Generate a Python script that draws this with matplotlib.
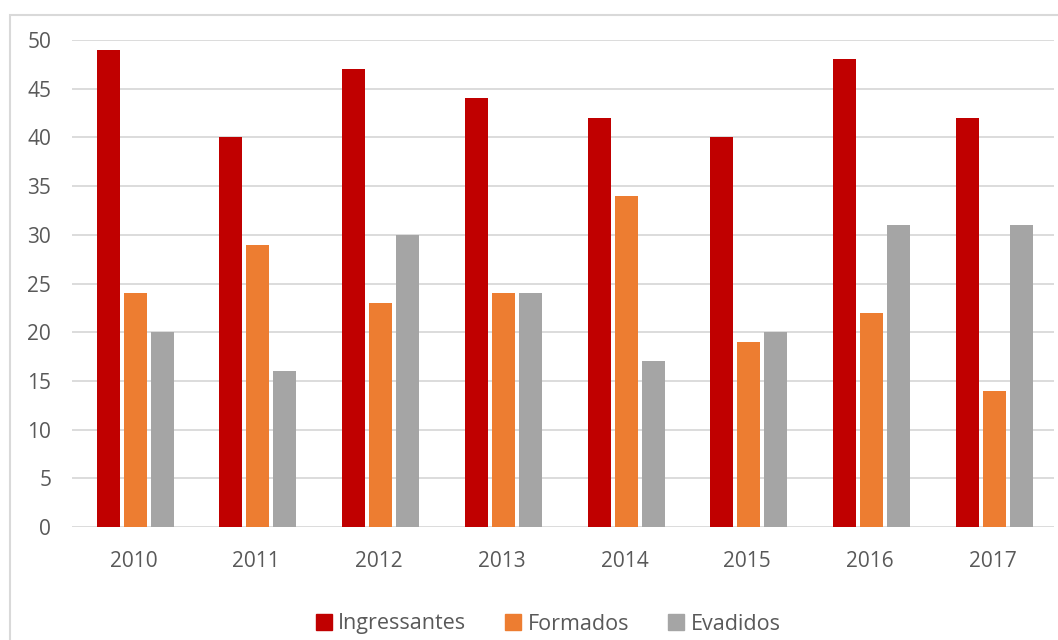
import matplotlib
matplotlib.use("Agg")
import matplotlib.pyplot as plt
import numpy as np
from matplotlib.patches import Rectangle, Patch

years = ["2010", "2011", "2012", "2013", "2014", "2015", "2016", "2017"]
ingressantes = [49, 40, 47, 44, 42, 40, 48, 42]
formados = [24, 29, 23, 24, 34, 19, 22, 14]
evadidos = [20, 16, 30, 24, 17, 20, 31, 31]
series_names = ["Ingressantes", "Formados", "Evadidos"]
colors = ["#C00000", "#ED7D31", "#A5A5A5"]

plt.rcParams['font.family'] = ['Open Sans', 'DejaVu Sans']

fig = plt.figure(figsize=(10.58, 6.4), dpi=100)
fig.patch.set_facecolor("white")

# outer chart frame (extends past right/bottom edges)
fig.patches.append(Rectangle((9.5/1058, -0.1), 1.2, 1 - 14.5/640 + 0.1,
                             transform=fig.transFigure, fill=False,
                             edgecolor="#d9d9d9", linewidth=1.5, zorder=0))

ax = fig.add_axes([72/1058, 1 - 527/640, (1054-72)/1058, (527-40)/640])
x = np.arange(len(years))
w = 23/122.75
step = 27/122.75
for i, (vals, c) in enumerate(zip([ingressantes, formados, evadidos], colors)):
    ax.bar(x + (i-1)*step + 0.015, vals, width=w, color=c, zorder=3)

ax.set_xlim(-0.5, len(years)-0.5)
ax.set_ylim(0, 50)
ax.set_yticks(range(0, 51, 5))
ax.set_xticks(x)
ax.set_xticklabels(years)
ax.yaxis.grid(True, color="#d9d9d9", linewidth=1.3, zorder=0)
ax.set_axisbelow(True)
for s in ax.spines.values():
    s.set_visible(False)
ax.tick_params(axis="both", length=0, colors="#595959", labelsize=15)
ax.tick_params(axis="y", pad=15)
ax.tick_params(axis="x", pad=17)

handles = [Patch(facecolor=c, edgecolor=c) for c in colors]
fig.legend(handles, series_names, loc="center", bbox_to_anchor=(548/1058, 1 - 624/640),
           ncol=3, frameon=False, fontsize=15.5, labelcolor="#595959",
           handlelength=0.75, handleheight=0.75, handletextpad=0.3, columnspacing=1.8)

fig.savefig("out.png", dpi=100, facecolor="white")
